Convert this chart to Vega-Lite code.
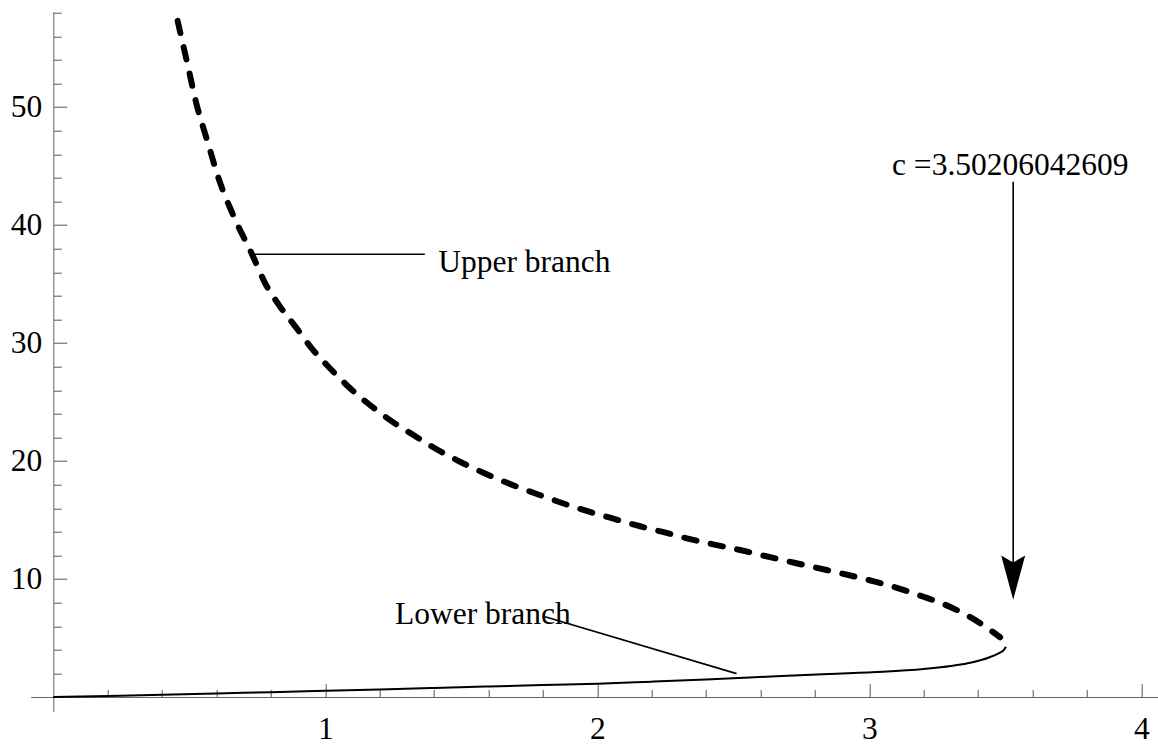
{
  "$schema": "https://vega.github.io/schema/vega-lite/v6.json",
  "autosize": {"type": "none"},
  "padding": {"left": 30.7, "top": 11.7, "right": 0, "bottom": 33.3},
  "width": 1127.3,
  "height": 700,
  "background": "white",
  "config": {"view": {"stroke": null}, "font": "Liberation Serif"},
  "datasets": {
    "upper": [
      {"x": 0.457, "y": 57.3}, {"x": 0.49, "y": 53.98}, {"x": 0.527, "y": 50.2}, {"x": 0.564, "y": 47.3},
      {"x": 0.613, "y": 43.6}, {"x": 0.662, "y": 40.8}, {"x": 0.735, "y": 37.3}, {"x": 0.778, "y": 35.1},
      {"x": 0.834, "y": 33.08}, {"x": 0.895, "y": 31.24}, {"x": 0.95, "y": 29.55}, {"x": 1.017, "y": 27.86},
      {"x": 1.085, "y": 26.3}, {"x": 1.164, "y": 24.75}, {"x": 1.238, "y": 23.47}, {"x": 1.324, "y": 22.2},
      {"x": 1.403, "y": 21.08}, {"x": 1.495, "y": 19.94}, {"x": 1.581, "y": 19.01}, {"x": 1.673, "y": 18.11},
      {"x": 1.765, "y": 17.31}, {"x": 1.857, "y": 16.55}, {"x": 1.949, "y": 15.85}, {"x": 2.047, "y": 15.2},
      {"x": 2.139, "y": 14.58}, {"x": 2.237, "y": 14.01}, {"x": 2.329, "y": 13.45}, {"x": 2.426, "y": 12.94},
      {"x": 2.525, "y": 12.46}, {"x": 2.617, "y": 11.95}, {"x": 2.72, "y": 11.4}, {"x": 2.843, "y": 10.76},
      {"x": 2.923, "y": 10.34}, {"x": 3.021, "y": 9.77}, {"x": 3.107, "y": 9.21}, {"x": 3.199, "y": 8.5},
      {"x": 3.296, "y": 7.65}, {"x": 3.376, "y": 6.7}, {"x": 3.44, "y": 5.75}, {"x": 3.481, "y": 5.06}
    ],
    "lower": [
      {"x": 0, "y": 0}, {"x": 0.2, "y": 0.09}, {"x": 0.4, "y": 0.18}, {"x": 0.6, "y": 0.29},
      {"x": 0.8, "y": 0.41}, {"x": 1.0, "y": 0.52}, {"x": 1.2, "y": 0.63}, {"x": 1.4, "y": 0.76},
      {"x": 1.6, "y": 0.89}, {"x": 1.8, "y": 1.01}, {"x": 2.0, "y": 1.13}, {"x": 2.2, "y": 1.3},
      {"x": 2.4, "y": 1.48}, {"x": 2.56, "y": 1.65}, {"x": 2.7, "y": 1.8}, {"x": 2.85, "y": 1.95},
      {"x": 3.05, "y": 2.14}, {"x": 3.2, "y": 2.38}, {"x": 3.3, "y": 2.63}, {"x": 3.38, "y": 2.95},
      {"x": 3.44, "y": 3.35}, {"x": 3.475, "y": 3.7}, {"x": 3.495, "y": 4.0}, {"x": 3.502, "y": 4.25}
    ],
    "pointers": [
      {"x": 0.735, "y": 37.52, "x2": 1.366, "y2": 37.52},
      {"x": 1.808, "y": 6.81, "x2": 2.512, "y2": 1.98},
      {"x": 3.529, "y": 43.67, "x2": 3.529, "y2": 11.0}
    ],
    "arrowhead": [{"x": 3.529, "y": 8.25}],
    "labels": [
      {"x": 1.415, "y": 36.0, "label": "Upper branch"},
      {"x": 1.256, "y": 6.19, "label": "Lower branch"},
      {"x": 3.0835, "y": 44.24, "label": "c =3.50206042609"}
    ]
  },
  "encoding": {
    "x": {
      "field": "x", "type": "quantitative", "title": null,
      "scale": {"domain": [-0.0831, 4.0614], "nice": false, "zero": false},
      "axis": {
        "offset": -14.7,
        "grid": false,
        "domainColor": "#666", "domainWidth": 1,
        "tickColor": "#555", "tickWidth": 1,
        "values": [0.2, 0.4, 0.6, 0.8, 1, 1.2, 1.4, 1.6, 1.8, 2, 2.2, 2.4, 2.6, 2.8, 3, 3.2, 3.4, 3.6, 3.8, 4],
        "tickSize": {"condition": {"test": "abs(datum.value - round(datum.value)) < 0.01", "value": -13.5}, "value": -7.5},
        "labelExpr": "abs(datum.value - round(datum.value)) < 0.01 ? format(datum.value, 'd') : ''",
        "labelFont": "Liberation Serif", "labelFontSize": 31.5, "labelColor": "#000",
        "labelBaseline": "alphabetic", "labelPadding": 54.5,
        "labelOverlap": false, "labelFlush": false
      }
    },
    "y": {
      "field": "y", "type": "quantitative", "title": null,
      "scale": {"domain": [-1.246, 58.08], "nice": false, "zero": false},
      "axis": {
        "offset": -22.6,
        "grid": false,
        "domainColor": "#666", "domainWidth": 1,
        "tickColor": "#555", "tickWidth": 1,
        "values": [2, 4, 6, 8, 10, 12, 14, 16, 18, 20, 22, 24, 26, 28, 30, 32, 34, 36, 38, 40, 42, 44, 46, 48, 50, 52, 54, 56, 58],
        "tickSize": {"condition": {"test": "datum.value % 10 === 0", "value": -13.5}, "value": -8},
        "labelExpr": "datum.value % 10 === 0 ? datum.label : ''",
        "labelFont": "Liberation Serif", "labelFontSize": 31.5, "labelColor": "#000",
        "labelPadding": 25,
        "labelOverlap": false, "labelFlush": false
      }
    }
  },
  "layer": [
    {
      "data": {"name": "lower"},
      "mark": {"type": "line", "color": "#000", "strokeWidth": 2, "interpolate": "monotone"}
    },
    {
      "data": {"name": "upper"},
      "mark": {"type": "line", "color": "#000", "strokeWidth": 6, "strokeCap": "round", "strokeDash": [12.5, 14.5], "interpolate": "monotone"}
    },
    {
      "data": {"name": "labels"},
      "mark": {"type": "text", "align": "left", "baseline": "alphabetic", "font": "Liberation Serif", "fontSize": 31.5, "color": "#000"},
      "encoding": {"text": {"field": "label", "type": "nominal"}}
    },
    {
      "data": {"name": "pointers"},
      "mark": {"type": "rule", "color": "#000", "strokeWidth": 1.6},
      "encoding": {
        "x2": {"field": "x2"},
        "y2": {"field": "y2"}
      }
    },
    {
      "data": {"name": "arrowhead"},
      "mark": {"type": "point", "filled": true, "color": "#000", "opacity": 1, "strokeWidth": 0, "size": 576, "shape": "M0,0 L-1,-3.67 L0,-3.1 L1,-3.67 Z"}
    }
  ]
}
